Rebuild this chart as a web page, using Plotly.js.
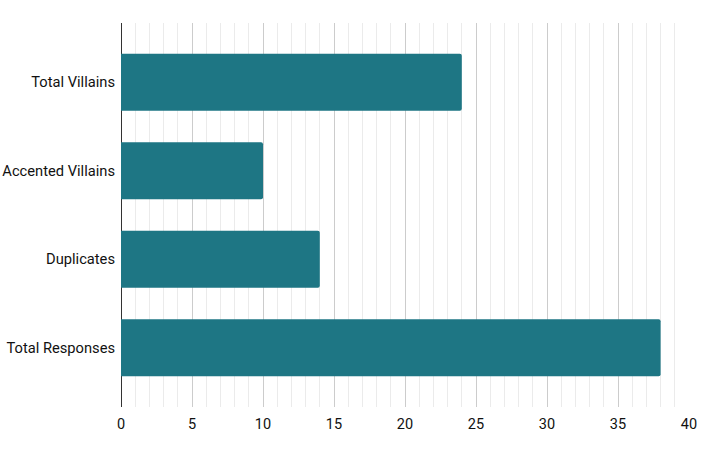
<!DOCTYPE html>
<html>
<head>
<meta charset="utf-8">
<script src="https://cdn.plot.ly/plotly-3.0.1.min.js"></script>
<style>html,body{margin:0;padding:0;background:#fff;}#chart{width:712px;height:454px;}</style>
</head>
<body>
<div id="chart"></div>
<script>
const categories = ["Total Responses", "Duplicates", "Accented Villains", "Total Villains"];
const values = [38, 14, 10, 24];

const trace = {
  type: 'bar',
  orientation: 'h',
  x: values,
  y: categories,
  width: 0.645,
  marker: {color: '#1e7684', cornerradius: 2},
  hoverinfo: 'none'
};

const layout = {
  width: 712,
  height: 454,
  margin: {l: 121, r: 23, t: 23, b: 47},
  paper_bgcolor: '#ffffff',
  plot_bgcolor: '#ffffff',
  font: {family: 'Roboto, Arial, sans-serif', size: 14, color: '#111111'},
  showlegend: false,
  xaxis: {
    range: [0, 40],
    dtick: 5,
    tick0: 0,
    showgrid: true,
    gridcolor: '#cccccc',
    gridwidth: 1,
    minor: {dtick: 1, tick0: 0, showgrid: true, gridcolor: '#ebebeb', gridwidth: 1},
    zeroline: true,
    zerolinecolor: '#333333',
    zerolinewidth: 1,
    showline: false,
    ticks: '',
    ticklabelstandoff: 6,
    tickfont: {family: 'Roboto, Arial, sans-serif', size: 14.5, color: '#111111'},
    fixedrange: true
  },
  yaxis: {
    type: 'category',
    categoryorder: 'array',
    categoryarray: categories,
    range: [-0.67, 3.67],
    showgrid: false,
    zeroline: false,
    showline: false,
    ticks: '',
    ticklabelstandoff: 5,
    tickfont: {family: 'Roboto, Arial, sans-serif', size: 14.7, color: '#111111'},
    fixedrange: true
  }
};

Plotly.newPlot('chart', [trace], layout, {displayModeBar: false, staticPlot: true});
</script>
</body>
</html>
